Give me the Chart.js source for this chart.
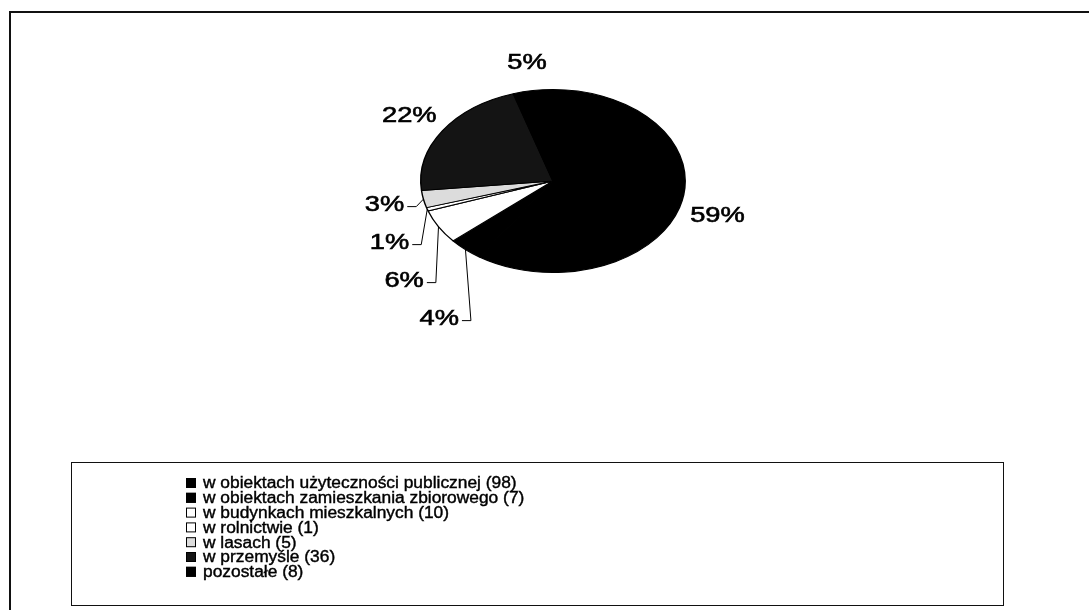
<!DOCTYPE html>
<html lang="pl">
<head>
  <meta charset="UTF-8">
  <title>Pożary według miejsca</title>
  <style>
  html, body {
    margin: 0;
    padding: 0;
    background: #fff;
  }
  #box {
    position: relative;
    width: 1089px;
    height: 610px;
  }
  </style>
  <script src="https://cdn.jsdelivr.net/npm/chart.js"></script>
</head>
<body>
  <div id="box"><canvas id="pieChart" width="1089" height="610"></canvas></div>

  <script>
    // categories and counts (legend shows counts, slices show percentages)
    var categories = [
      'w obiektach użyteczności publicznej',
      'w obiektach zamieszkania zbiorowego',
      'w budynkach mieszkalnych',
      'w rolnictwie',
      'w lasach',
      'w przemyśle',
      'pozostałe'
    ];
    var counts = [98, 7, 10, 1, 5, 36, 8];
    var sliceColors = ['#000000', '#000000', '#ffffff', '#ffffff', '#dcdcdc', '#141414', '#000000'];

    // the scanned pie is squashed: wider than tall
    var stretchX = 1.445;
    var labelFont = '22px "Liberation Sans", Arial, sans-serif';
    var legendFont = '16px "Liberation Sans", Arial, sans-serif';

    var total = counts.reduce(function(a, b) { return a + b; }, 0);

    // squash the round pie into an ellipse
    var ellipsePlugin = {
      id: 'ellipse',
      beforeDatasetsDraw: function(chart) {
        var arc = chart.getDatasetMeta(0).data[0];
        var ctx = chart.ctx;
        ctx.save();
        ctx.translate(arc.x, arc.y);
        ctx.scale(stretchX, 1);
        ctx.translate(-arc.x, -arc.y);
      },
      afterDatasetsDraw: function(chart) {
        chart.ctx.restore();
      }
    };

    // frame, percentage labels with leader lines, and legend box
    var decorPlugin = {
      id: 'decor',
      afterDraw: function(chart) {
        var ctx = chart.ctx;
        var meta = chart.getDatasetMeta(0);

        // outer frame (left and top only are visible on the scan)
        ctx.save();
        ctx.strokeStyle = '#111';
        ctx.lineWidth = 2;
        ctx.beginPath();
        ctx.moveTo(10, 610);
        ctx.lineTo(10, 12);
        ctx.lineTo(1089, 12);
        ctx.stroke();
        ctx.restore();

        // percentage labels
        ctx.save();
        ctx.font = labelFont;
        ctx.textBaseline = 'middle';
        ctx.textAlign = 'center';
        var labels = meta.data.map(function(arc, i) {
          var mid = (arc.startAngle + arc.endAngle) / 2;
          var rx = arc.outerRadius * stretchX, ry = arc.outerRadius;
          var ex = arc.x + rx * Math.cos(mid), ey = arc.y + ry * Math.sin(mid);
          return {
            text: Math.round(counts[i] / total * 100) + '%',
            ex: ex, ey: ey,
            x: arc.x + 1.3 * rx * Math.cos(mid),
            y: arc.y + 1.3 * ry * Math.sin(mid),
            left: Math.cos(mid) < 0,
            leader: false
          };
        });
        // stack crowded labels on the left side downwards
        var gap = 38;
        var leftSide = labels.filter(function(l) { return l.left; })
          .sort(function(a, b) { return a.y - b.y; });
        for (var i = 1; i < leftSide.length; i++) {
          if (leftSide[i].y - leftSide[i - 1].y < gap) {
            leftSide[i].leader = true;
            leftSide[i - 1].leader = true;
            leftSide[i].y = leftSide[i - 1].y + gap;
          }
        }
        labels.forEach(function(l) {
          var w = ctx.measureText(l.text).width * 1.24;
          ctx.save();
          ctx.translate(l.x, l.y);
          ctx.scale(1.24, 1);
          ctx.fillStyle = '#000';
          ctx.strokeStyle = '#000';
          ctx.lineWidth = 0.6;
          ctx.fillText(l.text, 0, 0);
          ctx.strokeText(l.text, 0, 0);
          ctx.restore();
          if (l.leader) {
            var sx = l.x + w / 2 + 3;
            ctx.strokeStyle = '#000';
            ctx.lineWidth = 1;
            ctx.beginPath();
            ctx.moveTo(sx, l.y + 2);
            ctx.lineTo(sx + 9, l.y + 2);
            ctx.lineTo(l.ex, l.ey);
            ctx.stroke();
          }
        });
        ctx.restore();

        // legend box
        ctx.save();
        ctx.strokeStyle = '#111';
        ctx.lineWidth = 1;
        ctx.strokeRect(71.5, 462.5, 932, 143);
        ctx.font = legendFont;
        ctx.textBaseline = 'middle';
        ctx.textAlign = 'left';
        categories.forEach(function(name, i) {
          var y = 483 + i * 14.8;
          ctx.fillStyle = sliceColors[i];
          ctx.fillRect(186, y - 5, 10, 10);
          ctx.strokeStyle = '#000';
          ctx.lineWidth = 1;
          ctx.strokeRect(186.5, y - 4.5, 9, 9);
          ctx.save();
          ctx.translate(203, y + 1);
          ctx.scale(1.085, 1);
          ctx.fillStyle = '#000';
          ctx.strokeStyle = '#000';
          ctx.lineWidth = 0.4;
          ctx.fillText(name + ' (' + counts[i] + ')', 0, 0);
          ctx.strokeText(name + ' (' + counts[i] + ')', 0, 0);
          ctx.restore();
        });
        ctx.restore();
      }
    };

    var pieChart = new Chart('pieChart', {
      type: 'pie',
      data: {
        labels: categories,
        datasets: [{
          data: counts,
          backgroundColor: sliceColors,
          borderColor: '#000',
          borderWidth: 1,
          clip: false
        }]
      },
      options: {
        responsive: false,
        animation: false,
        events: [],
        layout: {
          padding: { left: 461, right: 444, top: 89, bottom: 337 }
        },
        plugins: {
          legend: { display: false },
          tooltip: { enabled: false }
        }
      },
      plugins: [ellipsePlugin, decorPlugin]
    });
  </script>
</body>
</html>
